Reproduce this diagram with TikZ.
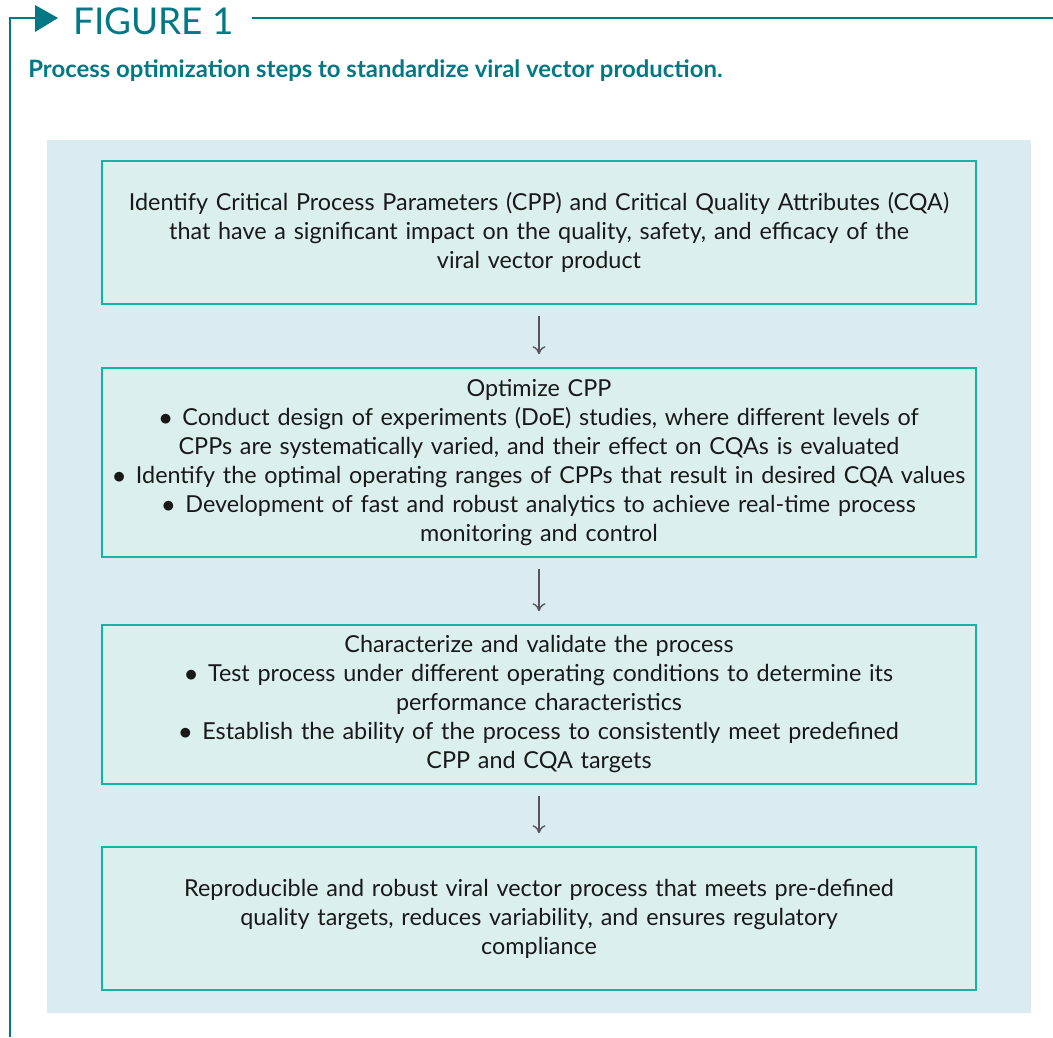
\documentclass[tikz,border=0pt]{standalone}
\usepackage{fontspec}
\setmainfont{Lato}
\usepackage{tikz}
\usetikzlibrary{arrows.meta,positioning,calc}
\definecolor{figteal}{RGB}{0,120,134}
\definecolor{panelblue}{RGB}{218,236,242}
\definecolor{boxfill}{RGB}{219,240,236}
\definecolor{boxline}{RGB}{20,180,160}
\definecolor{arrgray}{RGB}{85,85,90}
\definecolor{txtblack}{RGB}{25,25,25}
\newcommand{\stepitem}{$\bullet$\hspace{0.45em}}
\tikzset{
  stepbox/.style={draw=boxline, fill=boxfill, line width=0.9pt,
              minimum width=17.48cm, text width=17.2cm, align=center, inner sep=0pt,
              text=txtblack, font=\fontsize{13.3}{16.5}\selectfont},
  flowarr/.style={-{To[length=1.6mm,width=2.6mm]}, arrgray, line width=0.8pt,
              shorten <=0.22cm, shorten >=0.26cm},
  figrule/.style={figteal, line width=1.4pt},
}

\begin{document}
\begin{tikzpicture}
    \useasboundingbox (0,0) rectangle (21.06,-20.74);
    % header
    \draw[figrule] (0.2,-20.74) -- (0.2,-0.36) -- (0.72,-0.36);
    \fill[figteal] (0.7,-0.1) -- (1.16,-0.36) -- (0.7,-0.64) -- cycle;
    \node[anchor=west, inner sep=0pt, text=figteal, font=\fontsize{21}{24}\selectfont] (figtag) at (1.46,-0.42) {FIGURE 1};
    \coordinate (ruleend) at (21.06,-0.36);
    \draw[figrule] ([xshift=0.36cm]figtag.east |- ruleend) -- (ruleend);
    \node[anchor=base west, inner sep=0pt, text=figteal, font=\fontsize{13.6}{16}\selectfont\bfseries] (caption) at (0.56,-1.54)
      {Process optimization steps to standardize viral vector production.};
    % panel
    \fill[panelblue] (0.94,-2.8) rectangle (20.62,-20.26);
    % steps
    \node[stepbox, minimum height=2.86cm] (identify) at (10.78,-4.65)
      {Identify Critical Process Parameters (CPP) and Critical Quality Attributes (CQA)\\
       that have a significant impact on the quality, safety, and efficacy of the\\
       viral vector product};
    \node[stepbox, minimum height=3.78cm] (optimize) at (10.78,-9.25)
      {Optimize CPP\\
       \stepitem Conduct design of experiments (DoE) studies, where different levels of\\
       CPPs are systematically varied, and their effect on CQAs is evaluated\\
       \stepitem Identify the optimal operating ranges of CPPs that result in desired CQA values\\
       \stepitem Development of fast and robust analytics to achieve real-time process\\
       monitoring and control};
    \node[stepbox, minimum height=3.18cm] (validate) at (10.78,-14.09)
      {Characterize and validate the process\\
       \stepitem Test process under different operating conditions to determine its\\
       performance characteristics\\
       \stepitem Establish the ability of the process to consistently meet predefined\\
       CPP and CQA targets};
    \node[stepbox, minimum height=2.86cm] (result) at (10.78,-18.37)
      {Reproducible and robust viral vector process that meets pre-defined\\
       quality targets, reduces variability, and ensures regulatory\\
       compliance};
    \draw[flowarr] (identify) -- (optimize);
    \draw[flowarr] (optimize) -- (validate);
    \draw[flowarr] (validate) -- (result);
  \end{tikzpicture}
\end{document}
